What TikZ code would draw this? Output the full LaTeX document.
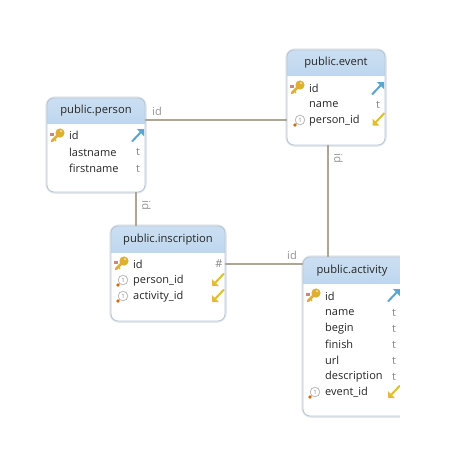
\documentclass[tikz,border=0pt]{standalone}
\usepackage{fontspec}
\setmainfont{Open Sans}
\definecolor{headblue}{RGB}{190,215,238}
\definecolor{headtop}{RGB}{203,223,242}
\definecolor{boxedge}{RGB}{186,200,216}
\definecolor{boxglow}{RGB}{228,232,236}
\definecolor{linktan}{RGB}{172,166,150}
\definecolor{typegray}{RGB}{135,135,135}
\definecolor{keygold}{RGB}{222,176,50}
\definecolor{pkblue}{RGB}{92,165,205}
\definecolor{fkgold}{RGB}{224,190,50}
\tikzset{
	tablebox/.style={draw=boxedge, line width=.9pt, rounded corners=7pt},
	glowbox/.style={draw=boxglow, line width=3.5pt, rounded corners=8pt},
	tabletitle/.style={black!85, font=\fontsize{11.2}{13}\selectfont},
	colname/.style={anchor=west, black!85, inner sep=0pt, font=\fontsize{11}{13}\selectfont},
	coltype/.style={anchor=center, typegray, inner sep=0pt, font=\fontsize{11}{13}\selectfont},
	linklabel/.style={typegray!90, inner sep=0pt, font=\fontsize{11}{13}\selectfont},
	linkline/.style={draw=linktan, line width=1.5pt}
}
% one table: x, y of the corners, header bottom, name, title, title x
\newcommand{\tablecard}[8]{
	\draw[glowbox] (#1,#2) rectangle (#3,#4);
	\begin{scope}
		\clip[rounded corners=7pt] (#1,#2) rectangle (#3,#4);
		\fill[white] (#1,#2) rectangle (#3,#4);
		\fill[bottom color=headblue, top color=headtop] (#1,#2) rectangle (#3,#5);
		\draw[white, line width=.8pt] (#1,#5+1) -- (#3,#5+1);
	\end{scope}
	\node[minimum width=#3pt-#1pt, minimum height=#4pt-#2pt, inner sep=0pt, outer sep=0pt] (#6) at ({(#1+#3)/2},{(#2+#4)/2}) {};
	\draw[tablebox] (#1,#2) rectangle (#3,#4);
	\node[tabletitle] (#6title) at (#8,{(#2+#5)/2+.5}) {#7};
}
% key for a primary key column
\newcommand{\pkicon}[2]{
	\begin{scope}[shift={(#1,#2)}]
		\fill[red!35!gray!70] (-5,-3.5) rectangle (-1.5,0);
		\draw[keygold, line width=2.6pt, line cap=round] (-3,5) -- (4,-2);
		\draw[keygold, line width=1.3pt] (-1,2.5) -- (1,5);
		\fill[keygold] (5,-3) circle (4.6);
		\fill[white!70!keygold] (6,-4.8) circle (1);
	\end{scope}
}
% unique marker for a foreign key column
\newcommand{\fkicon}[2]{
	\begin{scope}[shift={(#1,#2)}]
		\draw[gray!55, fill=white, line width=.8pt] (1,0) circle (4.8);
		\node[gray, inner sep=0pt, font=\fontsize{6}{6}\selectfont] at (1,0) {1};
		\fill[orange!85!black] (-4,5) circle (1.9);
	\end{scope}
}
\newcommand{\pkarrow}[2]{
	\draw[pkblue, line width=2pt] (#1-6,#2+6.5) -- (#1+3,#2-3);
	\fill[pkblue] (#1-1,#2-6) -- (#1+6,#2-6) -- (#1+6,#2+1) -- cycle;
}
\newcommand{\fkarrow}[2]{
	\draw[fkgold, line width=2pt] (#1+6,#2-6.5) -- (#1-3,#2+3);
	\fill[fkgold] (#1+1,#2+6) -- (#1-6,#2+6) -- (#1-6,#2-1) -- cycle;
}
\begin{document}
\begin{tikzpicture}[x=1pt, y=-1pt]
	\useasboundingbox (0,0) rectangle (448,464);
	\fill[white] (0,0) rectangle (448,464);

	% tables
	\tablecard{47}{98}{145}{192}{123}{person}{public.person}{96}
	\tablecard{287}{50}{385}{145}{75}{event}{public.event}{336}
	\tablecard{111}{226}{225}{321}{252}{inscription}{public.inscription}{168}
	\tablecard{303}{257}{408}{416}{283}{activity}{public.activity}{352}

	% columns of person
	\node[colname] (personid) at (69,135.5) {id};
	\node[colname] (personlast) at (69,152) {lastname};
	\node[colname] (personfirst) at (69,168.5) {firstname};
	\node[coltype] (personlasttype) at (138,152) {t};
	\node[coltype] (personfirsttype) at (138,168.5) {t};
	\pkicon{55}{136}
	\pkarrow{138}{135}

	% columns of event
	\node[colname] (eventid) at (309,88) {id};
	\node[colname] (eventname) at (309,104.5) {name};
	\node[colname] (eventperson) at (309,120.5) {person\_id};
	\node[coltype] (eventnametype) at (378,104.5) {t};
	\pkicon{295}{88}
	\fkicon{299}{120}
	\pkarrow{378}{88}
	\fkarrow{378.5}{119.5}

	% columns of inscription
	\node[colname] (inscid) at (133,264) {id};
	\node[colname] (inscperson) at (133,280.5) {person\_id};
	\node[colname] (inscactivity) at (133,296.5) {activity\_id};
	\node[coltype] (inscidtype) at (219,264) {\#};
	\pkicon{119}{264}
	\fkicon{122}{280}
	\fkicon{122}{296}
	\fkarrow{218}{280}
	\fkarrow{218}{296}

	% columns of activity
	\node[colname] (actid) at (325,296) {id};
	\node[colname] (actname) at (325,312.5) {name};
	\node[colname] (actbegin) at (325,328.5) {begin};
	\node[colname] (actfinish) at (325,344.5) {finish};
	\node[colname] (acturl) at (325,360.5) {url};
	\node[colname] (actdesc) at (325,376.5) {description};
	\node[colname] (actevent) at (325,392.5) {event\_id};
	\node[coltype] (actnametype) at (394,312.5) {t};
	\node[coltype] (actbegintype) at (394,328.5) {t};
	\node[coltype] (actfinishtype) at (394,344.5) {t};
	\node[coltype] (acturltype) at (394,360.5) {t};
	\node[coltype] (actdesctype) at (394,376.5) {t};
	\pkicon{311}{296}
	\fkicon{314}{392}
	\pkarrow{394}{295}
	\fkarrow{394}{392}
	\fill[white] (400,250) rectangle (448,425);

	% links
	\coordinate (eventlink) at (event.west |- 0,120);
	\coordinate (personlink) at (person.east |- 0,120);
	\coordinate (insctop) at (136,226);
	\coordinate (personbottom) at (136,192);
	\coordinate (eventbottom) at (328,145);
	\coordinate (acttop) at (328,257);
	\coordinate (insclink) at (inscription.east |- inscid);
	\coordinate (actlink) at (activity.west |- inscid);
	\draw[linkline] (personlink) -- (eventlink);
	\draw[linkline] (personbottom) -- (insctop);
	\draw[linkline] (eventbottom) -- (acttop);
	\draw[linkline] (insclink) -- (actlink);
	\node[linklabel] (idone) at (157,111) {id};
	\node[linklabel, rotate=-90] (idtwo) at (146.5,205) {id};
	\node[linklabel, rotate=-90] (idthree) at (338.5,158) {id};
	\node[linklabel] (idfour) at (292,255) {id};
\end{tikzpicture}
\end{document}
